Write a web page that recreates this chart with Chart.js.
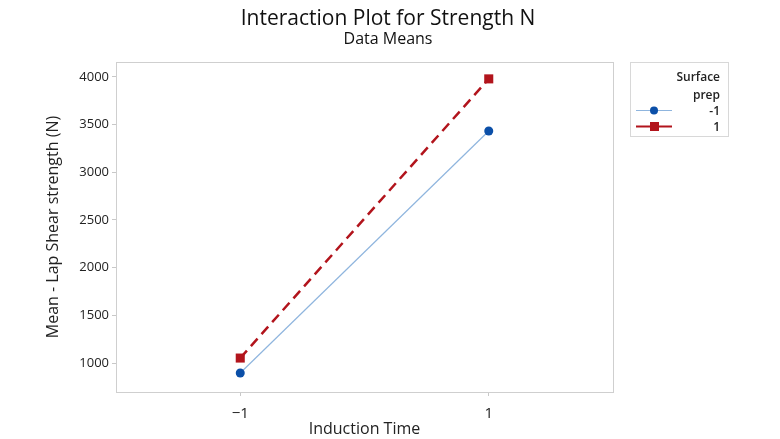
<!DOCTYPE html>
<html>
<head>
<meta charset="utf-8">
<script src="https://cdn.jsdelivr.net/npm/chart.js@4/dist/chart.umd.min.js"></script>
<style>
  html, body { margin: 0; padding: 0; background: #fff; }
  #wrap { width: 780px; height: 439px; }
</style>
</head>
<body>
<div id="wrap"><canvas id="chart" width="780" height="439"></canvas></div>
<script>
// Interaction plot data
const inductionLevels = [-1, 1];
const prepMinusOne = [895, 3433];   // Surface prep = -1
const prepPlusOne = [1052, 3980];   // Surface prep = 1
const yTicks = [1000, 1500, 2000, 2500, 3000, 3500, 4000];
const xTicks = [-1, 1];
const legendTitle = ['Surface', 'prep'];
const seriesNames = ['-1', '1'];

const FONT = '"Open Sans", "Noto Sans", sans-serif';
const BLUE = '#0b4fa8';
const BLUE_LINE = '#8fb5de';
const RED = '#b2141c';

function toPoints(xs, ys) {
    return xs.map((x, i) => ({ x: x, y: ys[i] }));
}

// frame around plot area + titles + legend box
const decorPlugin = {
    id: 'decor',
    afterDraw(chart) {
        const c = chart.ctx;
        const a = chart.chartArea;
        c.save();
        c.strokeStyle = '#cfcfcf';
        c.lineWidth = 1;
        c.strokeRect(Math.round(a.left) + 0.5, Math.round(a.top) + 0.5,
            Math.round(a.right - a.left), Math.round(a.bottom - a.top));

        // titles
        c.fillStyle = '#111';
        c.textAlign = 'center';
        c.textBaseline = 'alphabetic';
        c.font = '21px ' + FONT;
        c.fillText('Interaction Plot for Strength N', 388, 25);
        c.font = '500 16px ' + FONT;
        c.fillText('Data Means', 388, 44);

        // legend
        const lx = 630, ly = 62, lw = 98, lh = 74;
        c.strokeStyle = '#d8d8d8';
        c.strokeRect(lx + 0.5, ly + 0.5, lw, lh);
        c.fillStyle = '#222';
        c.font = '600 12px ' + FONT;
        c.textAlign = 'right';
        c.fillText(legendTitle[0], lx + 90, ly + 19);
        c.fillText(legendTitle[1], lx + 90, ly + 37);
        c.fillText(seriesNames[0], lx + 90, ly + 53);
        c.fillText(seriesNames[1], lx + 90, ly + 69);

        // blue sample
        c.strokeStyle = BLUE_LINE;
        c.lineWidth = 1;
        c.beginPath(); c.moveTo(lx + 6, ly + 48.5); c.lineTo(lx + 42, ly + 48.5); c.stroke();
        c.fillStyle = BLUE;
        c.beginPath(); c.arc(lx + 24, ly + 48.5, 4, 0, Math.PI * 2); c.fill();
        // red sample
        c.strokeStyle = RED;
        c.lineWidth = 2;
        c.beginPath(); c.moveTo(lx + 6, ly + 64.5); c.lineTo(lx + 42, ly + 64.5); c.stroke();
        c.fillStyle = RED;
        c.fillRect(lx + 20, ly + 60, 9, 9);
        c.restore();
    }
};

const ctx = document.getElementById('chart').getContext('2d');
const chart = new Chart(ctx, {
    type: 'scatter',
    data: {
        datasets: [
            {
                label: seriesNames[0],
                data: toPoints(inductionLevels, prepMinusOne),
                showLine: true,
                borderColor: BLUE_LINE,
                borderWidth: 1.2,
                pointStyle: 'circle',
                pointRadius: 4.5,
                pointBackgroundColor: BLUE,
                pointBorderColor: BLUE,
                pointBorderWidth: 0
            },
            {
                label: seriesNames[1],
                data: toPoints(inductionLevels, prepPlusOne),
                showLine: true,
                borderColor: RED,
                borderWidth: 2.5,
                borderDash: [10, 6],
                pointStyle: 'rect',
                pointRadius: 6.4,
                pointBackgroundColor: RED,
                pointBorderColor: RED,
                pointBorderWidth: 0
            }
        ]
    },
    options: {
        responsive: false,
        animation: false,
        layout: { padding: { left: 0, right: 167, top: 62, bottom: 0 } },
        plugins: {
            legend: { display: false },
            tooltip: { enabled: false },
            title: { display: false }
        },
        scales: {
            x: {
                type: 'linear',
                min: -2,
                max: 2,
                afterBuildTicks: (scale) => { scale.ticks = xTicks.map(v => ({ value: v })); },
                afterFit: (scale) => { scale.height = 47; },
                grid: { drawOnChartArea: false, drawTicks: true, tickLength: 4, color: '#c8c8c8' },
                border: { display: false },
                ticks: {
                    padding: 9,
                    color: '#222',
                    font: { family: FONT, size: 15 },
                    callback: (v) => (v < 0 ? '\u2212' + Math.abs(v) : String(v))
                },
                title: {
                    display: true,
                    text: 'Induction Time',
                    color: '#222',
                    font: { family: FONT, size: 16, weight: '500' },
                    padding: { top: 0, bottom: 0 }
                }
            },
            y: {
                min: 696,
                max: 4157,
                afterBuildTicks: (scale) => { scale.ticks = yTicks.map(v => ({ value: v })); },
                afterFit: (scale) => { scale.width = 116; },
                grid: { drawOnChartArea: false, drawTicks: true, tickLength: 4, color: '#c8c8c8' },
                border: { display: false },
                ticks: {
                    padding: 3,
                    color: '#222',
                    font: { family: FONT, size: 13, weight: '500' },
                    callback: (v) => String(v)
                },
                title: {
                    display: true,
                    text: 'Mean - Lap Shear strength (N)',
                    color: '#222',
                    font: { family: FONT, size: 16, weight: '500' },
                    padding: { top: 44, bottom: 0 }
                }
            }
        }
    },
    plugins: [decorPlugin]
});
</script>
</body>
</html>
